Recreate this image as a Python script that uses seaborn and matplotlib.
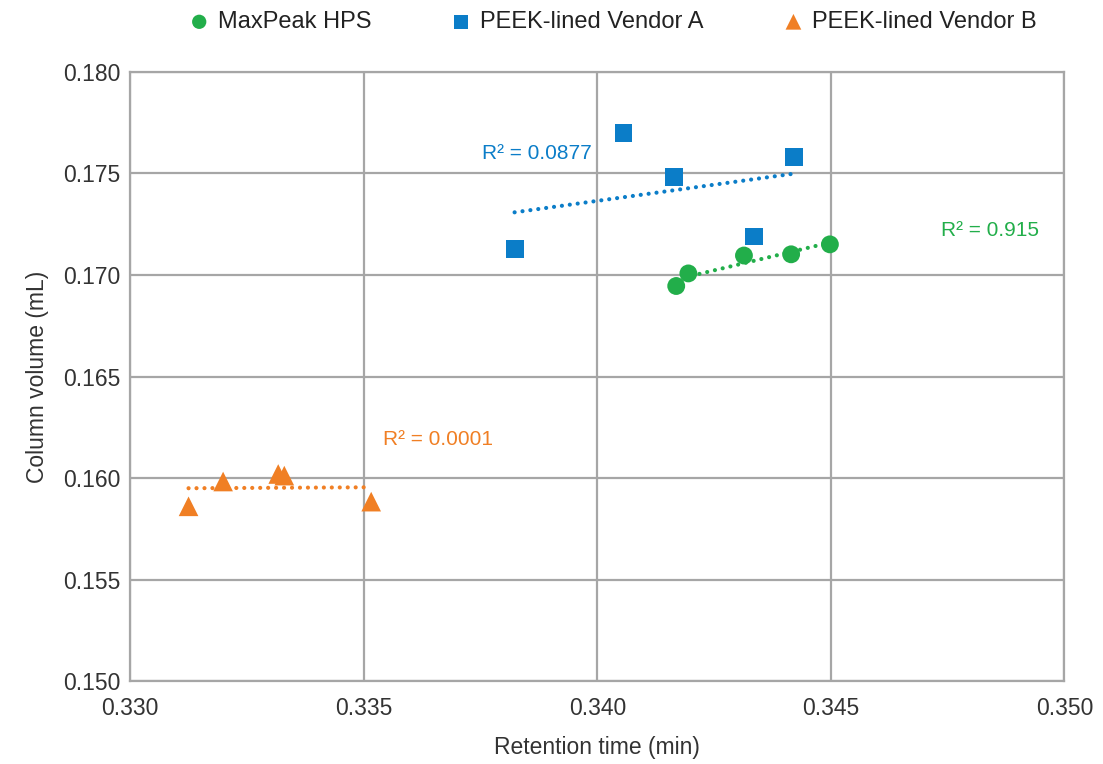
import pandas as pd
import numpy as np
import matplotlib
matplotlib.use("Agg")
import matplotlib.pyplot as plt
import seaborn as sns

# data
maxpeak_rt = [0.34169, 0.34195, 0.34314, 0.34415, 0.34498]
maxpeak_vol = [0.16946, 0.17008, 0.17096, 0.17102, 0.17151]

vendor_a_rt = [0.33823, 0.34056, 0.34164, 0.34335, 0.34421]
vendor_a_vol = [0.17127, 0.17701, 0.17482, 0.17190, 0.17579]

vendor_b_rt = [0.33125, 0.33199, 0.33317, 0.33330, 0.33516]
vendor_b_vol = [0.15862, 0.15984, 0.16021, 0.16013, 0.15885]

series_names = ["MaxPeak HPS", "PEEK-lined Vendor A", "PEEK-lined Vendor B"]
r2_labels = ["R\u00b2 = 0.915", "R\u00b2 = 0.0877", "R\u00b2 = 0.0001"]
r2_pos = [(0.3484, 0.1722), (0.3387, 0.1760), (0.3366, 0.1619)]

x_ticks = [0.330, 0.335, 0.340, 0.345, 0.350]
y_ticks = [0.150, 0.155, 0.160, 0.165, 0.170, 0.175, 0.180]

colors = ["#22AE4A", "#0B7DC8", "#F07F24"]
markers = ["o", "s", "^"]

df = pd.concat([
    pd.DataFrame({"rt": maxpeak_rt, "vol": maxpeak_vol, "series": series_names[0]}),
    pd.DataFrame({"rt": vendor_a_rt, "vol": vendor_a_vol, "series": series_names[1]}),
    pd.DataFrame({"rt": vendor_b_rt, "vol": vendor_b_vol, "series": series_names[2]}),
])

sns.set_style("white")
plt.rcParams['font.family'] = ['Liberation Sans', 'DejaVu Sans']

fig, ax = plt.subplots(figsize=(11.03, 7.64), dpi=100)
fig.subplots_adjust(left=0.118, right=0.965, top=0.906, bottom=0.108)

for name, col, mk in zip(series_names, colors, markers):
    sub = df[df["series"] == name]
    sns.regplot(data=sub, x="rt", y="vol", scatter=False, ci=None, ax=ax,
                color=col, truncate=True,
                line_kws={"linestyle": (0, (0.01, 1.9)), "linewidth": 3,
                          "dash_capstyle": "round", "zorder": 3})
    sns.scatterplot(data=sub, x="rt", y="vol", ax=ax, color=col, marker=mk,
                    s=165 if mk != "^" else 200, edgecolor="none", label=name, zorder=4)

for txt, (tx, ty), col in zip(r2_labels, r2_pos, colors):
    ax.text(tx, ty, txt, color=col, fontsize=15, ha="center", va="center")

ax.set_xlim(0.330, 0.350)
ax.set_ylim(0.150, 0.180)
ax.set_xticks(x_ticks)
ax.set_yticks(y_ticks)
ax.set_xticklabels([f"{v:.3f}" for v in x_ticks])
ax.set_yticklabels([f"{v:.3f}" for v in y_ticks])
ax.tick_params(axis="both", labelsize=16.5, length=0, colors="#333333")
ax.tick_params(axis="x", pad=11)
ax.tick_params(axis="y", pad=7)
ax.grid(True, color="#A6A6A6", linewidth=1.6)
ax.set_axisbelow(True)
for sp in ax.spines.values():
    sp.set_color("#A6A6A6")
    sp.set_linewidth(1.6)

ax.set_xlabel("Retention time (min)", fontsize=16.5, color="#333333", labelpad=12)
ax.set_ylabel("Column volume (mL)", fontsize=16.5, color="#333333", labelpad=10)

ax.get_legend().remove()
handles, labels = ax.get_legend_handles_labels()
leg = fig.legend(handles, labels, loc="center", bbox_to_anchor=(611 / 1103, 1 - 22 / 764),
                 ncol=3, frameon=False, fontsize=17, markerscale=0.8,
                 columnspacing=3.2, handletextpad=0.2, handlelength=1.2)
for t in leg.get_texts():
    t.set_color("#222222")

fig.savefig("out.png", dpi=100)
